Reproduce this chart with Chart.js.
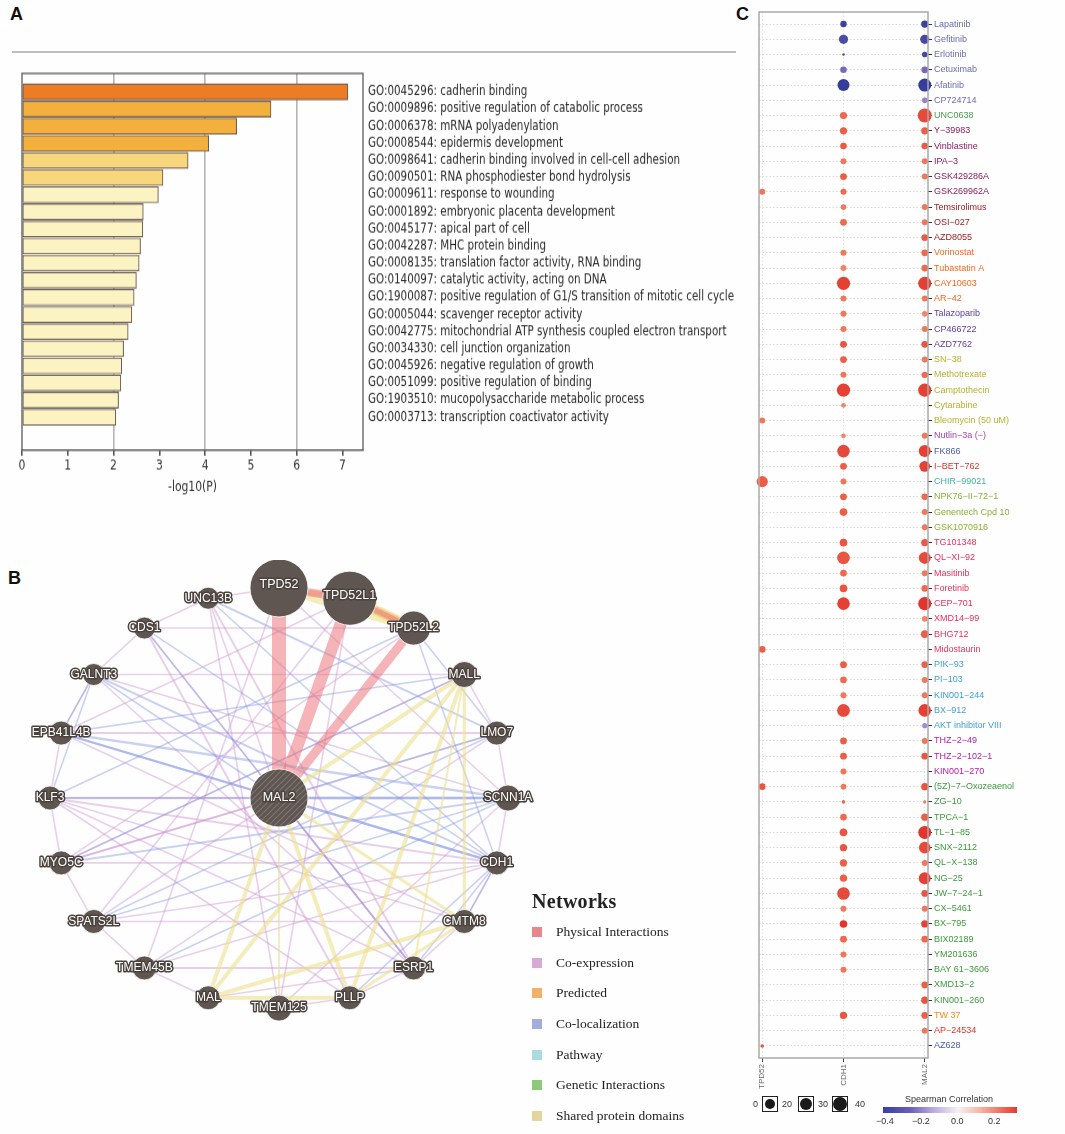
<!DOCTYPE html>
<html lang="en">
<head>
    <meta charset="UTF-8">
    <title>MAL2: GO enrichment, gene network and drug sensitivity</title>
    <script src="https://cdn.jsdelivr.net/npm/chart.js@4.4.0/dist/chart.umd.min.js"></script>
    <style>
        body {
            margin: 0;
            background: #fff;
            font-family: "Liberation Sans", Arial, sans-serif;
        }
        .page {
            position: relative;
            width: 1065px;
            height: 1134px;
            overflow: hidden;
            background: #fefefe;
        }
        .tag {
            position: absolute;
            font-weight: bold;
            font-size: 18px;
            color: #111;
        }
        canvas { position: absolute; }
        .rule {
            position: absolute;
            left: 12px;
            top: 51px;
            width: 724px;
            height: 2px;
            background: #bdbdbd;
        }
        .netLegend {
            position: absolute;
            left: 532px;
            top: 890px;
            font-family: "Liberation Serif", "DejaVu Serif", serif;
            color: #222;
        }
        .netLegend h3 {
            margin: 0 0 4px 0;
            font-size: 20px;
            font-weight: bold;
            letter-spacing: 0.3px;
        }
        .netLegend .item {
            height: 30.7px;
            line-height: 30.7px;
            font-size: 13.5px;
            white-space: nowrap;
        }
        .netLegend .sw {
            display: inline-block;
            width: 10px;
            height: 10px;
            margin-right: 14px;
            vertical-align: -1px;
        }
        .sizeLegend, .corrLegend {
            position: absolute;
            font-size: 9px;
            color: #333;
            white-space: nowrap;
        }
        .sizeLegend span, .corrLegend span { position: absolute; white-space: nowrap; }
        .sizeLegend .bx {
            position: absolute;
            top: 0;
            width: 14px;
            height: 14px;
            border: 1.5px solid #222;
            background: #fff;
        }
        .sizeLegend .bx i {
            position: absolute;
            left: 50%;
            top: 50%;
            border-radius: 50%;
            background: #1a1a1a;
            transform: translate(-50%, -50%);
        }
        .corrLegend .bar {
            position: absolute;
            left: 0;
            top: 13px;
            width: 134px;
            height: 6px;
            background: linear-gradient(to right, #353fa8 0%, #6a5cb8 20%, #b7a9dc 37%, #f6f0f4 56%, #f6b7a4 72%, #e63a2c 100%);
        }
    </style>
</head>
<body>
<div class="page">
    <div class="tag" style="left:10px; top:4px;">A</div>
    <div class="tag" style="left:8px; top:568px;">B</div>
    <div class="tag" style="left:736px; top:4px;">C</div>
    <div class="rule"></div>

    <!-- panel A is drawn 390px high and shown 440px high, to get the tall narrow lettering of the original -->
    <canvas id="goChart" width="745" height="390" style="left:0; top:60px; width:745px; height:440px;"></canvas>
    <canvas id="netChart" width="560" height="480" style="left:0; top:560px; width:560px; height:480px;"></canvas>
    <canvas id="drugChart" width="325" height="1100" style="left:740px; top:0; width:325px; height:1100px;"></canvas>

    <div class="netLegend" id="netLegend"><h3>Networks</h3></div>

    <div class="sizeLegend" style="left:750px; top:1096px;">
        <span style="left:3px; top:3px;">0</span>
        <div class="bx" style="left:12px;"><i style="width:10px; height:10px;"></i></div>
        <span style="left:32px; top:3px;">20</span>
        <div class="bx" style="left:48px;"><i style="width:12px; height:12px;"></i></div>
        <span style="left:68px; top:3px;">30</span>
        <div class="bx" style="left:82px;"><i style="width:14px; height:14px;"></i></div>
        <span style="left:105px; top:3px;">40</span>
    </div>
    <div class="corrLegend" style="left:883px; top:1094px;">
        <span style="left:22px; top:0;">Spearman Correlation</span>
        <div class="bar"></div>
        <span style="left:-7px; top:22px;">−0.4</span>
        <span style="left:29px; top:22px;">−0.2</span>
        <span style="left:68px; top:22px;">0.0</span>
        <span style="left:105px; top:22px;">0.2</span>
    </div>
</div>

<script>
    // ---------- A: GO enrichment ----------
    const goTerms = [
        'GO:0045296: cadherin binding',
        'GO:0009896: positive regulation of catabolic process',
        'GO:0006378: mRNA polyadenylation',
        'GO:0008544: epidermis development',
        'GO:0098641: cadherin binding involved in cell-cell adhesion',
        'GO:0090501: RNA phosphodiester bond hydrolysis',
        'GO:0009611: response to wounding',
        'GO:0001892: embryonic placenta development',
        'GO:0045177: apical part of cell',
        'GO:0042287: MHC protein binding',
        'GO:0008135: translation factor activity, RNA binding',
        'GO:0140097: catalytic activity, acting on DNA',
        'GO:1900087: positive regulation of G1/S transition of mitotic cell cycle',
        'GO:0005044: scavenger receptor activity',
        'GO:0042775: mitochondrial ATP synthesis coupled electron transport',
        'GO:0034330: cell junction organization',
        'GO:0045926: negative regulation of growth',
        'GO:0051099: positive regulation of binding',
        'GO:1903510: mucopolysaccharide metabolic process',
        'GO:0003713: transcription coactivator activity'
    ];
    const goLogP = [7.12, 5.44, 4.69, 4.08, 3.63, 3.08, 2.98, 2.65, 2.64, 2.59,
                    2.56, 2.50, 2.45, 2.40, 2.32, 2.22, 2.18, 2.16, 2.11, 2.05];

    function goBarColor(v) {
        if (v > 7) return '#ec7d24';
        if (v > 4) return '#f4b03c';
        if (v > 3) return '#f8d67c';
        return '#fcf3c2';
    }

    const narrow = "'DejaVu Sans Condensed', 'Liberation Sans', sans-serif";
    const stretchA = 440 / 390;   // vertical stretch of panel A

    const framePlugin = {
        id: 'frame',
        afterDatasetsDraw(chart, args, opts) {
            const a = chart.chartArea, ctx = chart.ctx;
            ctx.save();
            ctx.strokeStyle = opts.color;
            ctx.lineWidth = opts.width;
            ctx.strokeRect(a.left, a.top, a.right - a.left, a.bottom - a.top);
            ctx.restore();
        }
    };

    new Chart(document.getElementById('goChart'), {
        type: 'bar',
        data: {
            datasets: [{
                data: goLogP.map((v, i) => ({ x: v, y: i })),
                backgroundColor: goLogP.map(goBarColor),
                borderColor: '#6a5d55',
                borderWidth: 1.1,
                borderSkipped: false,
                barThickness: 16 / stretchA
            }]
        },
        options: {
            indexAxis: 'y',
            responsive: false,
            animation: false,
            layout: { autoPadding: false, padding: { left: 22, top: 13 / stretchA, right: 0, bottom: 0 } },
            plugins: {
                legend: { display: false },
                tooltip: { enabled: false },
                frame: { color: '#5a5a5a', width: 1.3 }
            },
            scales: {
                x: {
                    type: 'linear',
                    min: 0,
                    max: 7.45,
                    ticks: { stepSize: 1, includeBounds: false, color: '#333', padding: 2,
                             font: { family: narrow, size: 12 } },
                    grid: {
                        color: c => (c.tick && c.tick.value > 0 && c.tick.value % 2 === 0) ? '#b4b4b4' : 'rgba(0,0,0,0)',
                        lineWidth: 1.6,
                        tickLength: 5,
                        tickColor: '#555'
                    },
                    border: { display: true, color: '#5a5a5a', width: 1.3 },
                    title: { display: true, text: '-log10(P)', color: '#333', padding: { top: 1 },
                             font: { family: narrow, size: 12 } },
                    afterFit: s => { s.height = 390 - (450 - 60) / stretchA; }
                },
                y: {
                    type: 'linear',
                    position: 'right',
                    reverse: true,
                    min: -0.556,
                    max: 20.39,
                    ticks: {
                        stepSize: 1, includeBounds: false, autoSkip: false, maxTicksLimit: 100,
                        padding: 5, color: '#2a2a2a',
                        font: { family: narrow, size: 11.5 },
                        callback: v => goTerms[v] || ''
                    },
                    grid: { display: false, drawTicks: false },
                    border: { display: false },
                    afterFit: s => { s.width = 745 - 363; }
                }
            }
        },
        plugins: [framePlugin]
    });

    // ---------- B: gene network ----------
    const ringGenes = ['TPD52', 'TPD52L1', 'TPD52L2', 'MALL', 'LMO7', 'SCNN1A', 'CDH1', 'CMTM8',
                       'ESRP1', 'PLLP', 'TMEM125', 'MAL', 'TMEM45B', 'SPATS2L', 'MYO5C', 'KLF3',
                       'EPB41L4B', 'GALNT3', 'CDS1', 'UNC13B'];
    const ringNodeScore = [29, 27, 17, 13, 12, 13, 12, 12, 12, 12, 13, 12, 12, 12, 12, 12, 12, 11, 11, 11];
    const queryGene = 'MAL2';
    const queryScore = 29;

    const networkTypes = ['Physical Interactions', 'Co-expression', 'Predicted', 'Co-localization',
                          'Pathway', 'Genetic Interactions', 'Shared protein domains'];
    const networkColors = ['#e8868b', '#d6a9d9', '#f3b06a', '#a3addd', '#a9dbe0', '#8cc97c', '#e5d59c'];
    const edgeStroke = {
        'Physical Interactions': 'rgba(236,118,124,0.55)',
        'Co-expression': 'rgba(203,146,208,0.42)',
        'Predicted': 'rgba(240,168,86,0.5)',
        'Co-localization': 'rgba(132,150,226,0.42)',
        'Shared protein domains': 'rgba(236,224,140,0.6)'
    };

    // [gene A, gene B, network, weight]
    const edges = [
        ['MAL2', 'TPD52', 'Physical Interactions', 14],
        ['MAL2', 'TPD52L1', 'Physical Interactions', 12],
        ['MAL2', 'TPD52L2', 'Physical Interactions', 9],
        ['TPD52', 'TPD52L1', 'Physical Interactions', 8],
        ['TPD52L1', 'TPD52L2', 'Physical Interactions', 5],
        ['TPD52', 'TPD52L1', 'Predicted', 5],
        ['TPD52L1', 'TPD52L2', 'Predicted', 8],
        ['TPD52', 'TPD52L2', 'Shared protein domains', 8],
        ['TPD52L1', 'TPD52L2', 'Shared protein domains', 11],
        ['MAL2', 'MAL', 'Shared protein domains', 4],
        ['MAL2', 'PLLP', 'Shared protein domains', 4],
        ['MAL2', 'MALL', 'Shared protein domains', 4],
        ['MAL', 'PLLP', 'Shared protein domains', 4],
        ['MAL', 'MALL', 'Shared protein domains', 4],
        ['PLLP', 'MALL', 'Shared protein domains', 4],
        ['MAL', 'CMTM8', 'Shared protein domains', 4],
        ['PLLP', 'CMTM8', 'Shared protein domains', 3],
        ['MALL', 'CMTM8', 'Shared protein domains', 3],
        ['MAL2', 'CMTM8', 'Shared protein domains', 3],
        ['MALL', 'ESRP1', 'Shared protein domains', 2],
        ['MAL2', 'TMEM125', 'Shared protein domains', 2],
        ['UNC13B', 'CDS1', 'Co-expression', 1.6],
        ['CDS1', 'GALNT3', 'Co-expression', 1.6],
        ['GALNT3', 'EPB41L4B', 'Co-expression', 1.6],
        ['EPB41L4B', 'KLF3', 'Co-expression', 1.6],
        ['KLF3', 'MYO5C', 'Co-expression', 1.6],
        ['MYO5C', 'SPATS2L', 'Co-expression', 1.6],
        ['SPATS2L', 'TMEM45B', 'Co-expression', 1.6],
        ['TMEM45B', 'MAL', 'Co-expression', 1.6],
        ['TMEM125', 'PLLP', 'Co-expression', 1.6],
        ['PLLP', 'ESRP1', 'Co-expression', 1.6],
        ['ESRP1', 'CMTM8', 'Co-expression', 1.6],
        ['CMTM8', 'CDH1', 'Co-expression', 1.6],
        ['CDH1', 'SCNN1A', 'Co-expression', 1.6],
        ['SCNN1A', 'LMO7', 'Co-expression', 1.6],
        ['LMO7', 'MALL', 'Co-expression', 1.6],
        ['UNC13B', 'TPD52', 'Co-expression', 1.6],
        ['UNC13B', 'ESRP1', 'Co-expression', 2],
        ['UNC13B', 'TMEM125', 'Co-expression', 1.6],
        ['CDS1', 'TPD52L2', 'Co-expression', 1.6],
        ['CDS1', 'PLLP', 'Co-expression', 2],
        ['GALNT3', 'MALL', 'Co-expression', 1.6],
        ['GALNT3', 'SCNN1A', 'Co-expression', 1.6],
        ['EPB41L4B', 'LMO7', 'Co-expression', 2],
        ['EPB41L4B', 'CMTM8', 'Co-expression', 1.6],
        ['KLF3', 'CDH1', 'Co-expression', 2],
        ['KLF3', 'ESRP1', 'Co-expression', 1.6],
        ['MYO5C', 'CDH1', 'Co-expression', 1.6],
        ['MYO5C', 'LMO7', 'Co-expression', 1.6],
        ['SPATS2L', 'TPD52L1', 'Co-expression', 1.6],
        ['SPATS2L', 'CDH1', 'Co-expression', 1.6],
        ['TMEM45B', 'CDH1', 'Co-expression', 1.6],
        ['TMEM45B', 'TPD52', 'Co-expression', 1.6],
        ['TMEM45B', 'ESRP1', 'Co-expression', 2],
        ['MAL', 'ESRP1', 'Co-expression', 1.6],
        ['TMEM125', 'SCNN1A', 'Co-expression', 1.6],
        ['PLLP', 'KLF3', 'Co-expression', 1.6],
        ['ESRP1', 'GALNT3', 'Co-expression', 1.6],
        ['ESRP1', 'CDS1', 'Co-expression', 1.6],
        ['CMTM8', 'KLF3', 'Co-expression', 1.6],
        ['CMTM8', 'SPATS2L', 'Co-expression', 1.6],
        ['MAL2', 'KLF3', 'Co-expression', 2.5],
        ['MAL2', 'MYO5C', 'Co-expression', 2],
        ['MAL2', 'ESRP1', 'Co-expression', 2],
        ['MAL2', 'SPATS2L', 'Co-expression', 1.6],
        ['MAL2', 'UNC13B', 'Co-expression', 1.6],
        ['TPD52L1', 'EPB41L4B', 'Co-expression', 1.6],
        ['TPD52L2', 'MYO5C', 'Co-expression', 1.6],
        ['TPD52', 'SCNN1A', 'Co-expression', 1.6],
        ['TPD52L1', 'TMEM125', 'Co-expression', 1.6],
        ['LMO7', 'TMEM45B', 'Co-expression', 1.6],
        ['MALL', 'MYO5C', 'Co-expression', 1.6],
        ['GALNT3', 'CDH1', 'Co-localization', 2],
        ['EPB41L4B', 'CDH1', 'Co-localization', 2.5],
        ['EPB41L4B', 'SCNN1A', 'Co-localization', 2.5],
        ['KLF3', 'SCNN1A', 'Co-localization', 2],
        ['MYO5C', 'SCNN1A', 'Co-localization', 2],
        ['UNC13B', 'LMO7', 'Co-localization', 2],
        ['UNC13B', 'CDH1', 'Co-localization', 1.6],
        ['CDS1', 'ESRP1', 'Co-localization', 1.6],
        ['CDS1', 'CDH1', 'Co-localization', 1.6],
        ['MAL2', 'SCNN1A', 'Co-localization', 3],
        ['MAL2', 'CDH1', 'Co-localization', 2.5],
        ['MAL2', 'LMO7', 'Co-localization', 2],
        ['MAL2', 'EPB41L4B', 'Co-localization', 2],
        ['MAL2', 'GALNT3', 'Co-localization', 1.6],
        ['GALNT3', 'KLF3', 'Co-localization', 1.6],
        ['GALNT3', 'EPB41L4B', 'Co-localization', 1.6],
        ['SPATS2L', 'LMO7', 'Co-localization', 1.6],
        ['TMEM45B', 'SCNN1A', 'Co-localization', 1.6],
        ['MYO5C', 'MALL', 'Co-localization', 1.6],
        ['ESRP1', 'CDH1', 'Co-localization', 1.6],
        ['CMTM8', 'CDH1', 'Co-localization', 1.6],
        ['TPD52L2', 'LMO7', 'Co-localization', 1.6],
        ['TPD52L2', 'CDH1', 'Co-localization', 1.6],
        ['KLF3', 'TPD52L2', 'Co-localization', 1.6],
        ['PLLP', 'CDH1', 'Co-localization', 1.6],
        ['MALL', 'EPB41L4B', 'Co-localization', 1.6],
        ['SPATS2L', 'SCNN1A', 'Co-localization', 1.6]
    ];

    // ring layout: genes evenly spaced round the circle, query gene in the centre
    const nodePos = {};
    ringGenes.forEach((g, k) => {
        const t = (-90 + 360 * k / ringGenes.length) * Math.PI / 180;
        nodePos[g] = { x: Math.cos(t), y: Math.sin(t) };
    });
    nodePos[queryGene] = { x: 0, y: 0 };

    const edgeOrder = { 'Co-expression': 5, 'Co-localization': 4, 'Shared protein domains': 3, 'Predicted': 2, 'Physical Interactions': 1 };
    const edgeSets = edges.map(([a, b, type, w]) => ({
        type: 'line',
        data: [nodePos[a], nodePos[b]],
        borderColor: edgeStroke[type],
        borderWidth: w,
        pointRadius: 0,
        showLine: true,
        order: edgeOrder[type] + 1
    }));

    const nodeFill = '#5f5651';
    const hatch = document.createElement('canvas');
    hatch.width = 6; hatch.height = 6;
    const hctx = hatch.getContext('2d');
    hctx.fillStyle = nodeFill;
    hctx.fillRect(0, 0, 6, 6);
    hctx.strokeStyle = '#7d7470';
    hctx.lineWidth = 1.2;
    hctx.beginPath();
    hctx.moveTo(0, 6); hctx.lineTo(6, 0);
    hctx.moveTo(-1, 1); hctx.lineTo(1, -1);
    hctx.moveTo(5, 7); hctx.lineTo(7, 5);
    hctx.stroke();
    const hatchPattern = hctx.createPattern(hatch, 'repeat');

    const allGenes = ringGenes.concat([queryGene]);
    const allScores = ringNodeScore.concat([queryScore]);

    const nodeLabelPlugin = {
        id: 'nodeLabels',
        afterDatasetsDraw(chart) {
            const ctx = chart.ctx, sx = chart.scales.x, sy = chart.scales.y;
            ctx.save();
            ctx.textAlign = 'center';
            ctx.textBaseline = 'middle';
            ctx.lineJoin = 'round';
            allGenes.forEach((g, i) => {
                const px = sx.getPixelForValue(nodePos[g].x);
                let py = sy.getPixelForValue(nodePos[g].y);
                if (allScores[i] > 20 && g !== queryGene) py -= 3;
                ctx.font = (allScores[i] > 20 ? '12.5px' : '12px') + ' "Liberation Sans", Arial, sans-serif';
                ctx.strokeStyle = '#4b423d';
                ctx.lineWidth = 3;
                ctx.strokeText(g, px, py);
                ctx.fillStyle = '#ffffff';
                ctx.fillText(g, px, py);
            });
            ctx.restore();
        }
    };

    new Chart(document.getElementById('netChart'), {
        type: 'scatter',
        data: {
            datasets: edgeSets.concat([{
                type: 'bubble',
                data: allGenes.map((g, i) => ({ x: nodePos[g].x, y: nodePos[g].y, r: allScores[i] })),
                backgroundColor: allGenes.map(g => g === queryGene ? hatchPattern : nodeFill),
                borderColor: '#ffffff',
                borderWidth: 0.8,
                order: 0
            }])
        },
        options: {
            responsive: false,
            animation: false,
            layout: { autoPadding: false, padding: 0 },
            plugins: { legend: { display: false }, tooltip: { enabled: false } },
            scales: {
                x: { type: 'linear', display: false, min: -279 / 229, max: (560 - 279) / 229 },
                y: { type: 'linear', display: false, reverse: true, min: -1.133, max: 1.152 }
            }
        },
        plugins: [nodeLabelPlugin]
    });

    const legendEl = document.getElementById('netLegend');
    networkTypes.forEach((t, i) => {
        const d = document.createElement('div');
        d.className = 'item';
        d.innerHTML = '<span class="sw" style="background:' + networkColors[i] + '"></span>' + t;
        legendEl.appendChild(d);
    });

    // ---------- C: drug sensitivity (GDSC) ----------
    const genesC = ['TPD52', 'CDH1', 'MAL2'];
    const drugs = [
        'Lapatinib', 'Gefitinib', 'Erlotinib', 'Cetuximab', 'Afatinib', 'CP724714', 'UNC0638',
        'Y−39983', 'Vinblastine', 'IPA−3', 'GSK429286A', 'GSK269962A', 'Temsirolimus', 'OSI−027',
        'AZD8055', 'Vorinostat', 'Tubastatin A', 'CAY10603', 'AR−42', 'Talazoparib', 'CP466722',
        'AZD7762', 'SN−38', 'Methotrexate', 'Camptothecin', 'Cytarabine', 'Bleomycin (50 uM)',
        'Nutlin−3a (−)', 'FK866', 'I−BET−762', 'CHIR−99021', 'NPK76−II−72−1', 'Genentech Cpd 10',
        'GSK1070916', 'TG101348', 'QL−XI−92', 'Masitinib', 'Foretinib', 'CEP−701', 'XMD14−99',
        'BHG712', 'Midostaurin', 'PIK−93', 'PI−103', 'KIN001−244', 'BX−912', 'AKT inhibitor VIII',
        'THZ−2−49', 'THZ−2−102−1', 'KIN001−270', '(5Z)−7−Oxozeaenol', 'ZG−10', 'TPCA−1', 'TL−1−85',
        'SNX−2112', 'QL−X−138', 'NG−25', 'JW−7−24−1', 'CX−5461', 'BX−795', 'BIX02189', 'YM201636',
        'BAY 61−3606', 'XMD13−2', 'KIN001−260', 'TW 37', 'AP−24534', 'AZ628'
    ];
    const drugPathway = [
        'EGFR', 'EGFR', 'EGFR', 'EGFR', 'EGFR', 'EGFR', 'Histone methylation',
        'Cytoskeleton', 'Cytoskeleton', 'Cytoskeleton', 'Cytoskeleton', 'Cytoskeleton', 'PI3K/MTOR', 'PI3K/MTOR',
        'PI3K/MTOR', 'Histone acetylation', 'Histone acetylation', 'Histone acetylation', 'Histone acetylation', 'Genome integrity', 'Genome integrity',
        'Genome integrity', 'DNA replication', 'DNA replication', 'DNA replication', 'DNA replication', 'DNA replication',
        'p53', 'Metabolism', 'Chromatin other', 'WNT', 'Mitosis', 'Mitosis',
        'Mitosis', 'RTK', 'RTK', 'RTK', 'RTK', 'RTK', 'RTK',
        'RTK', 'RTK', 'PI3K', 'PI3K', 'PI3K', 'PI3K', 'PI3K',
        'Cell cycle', 'Cell cycle', 'Cell cycle', 'Other kinases', 'Other kinases', 'Other kinases', 'Other kinases',
        'Other kinases', 'Other kinases', 'Other kinases', 'Other kinases', 'Other kinases', 'Other kinases', 'Other kinases', 'Other kinases',
        'Other kinases', 'Other kinases', 'Other kinases', 'Apoptosis', 'ABL', 'ERK MAPK'
    ];
    const pathwayColor = {
        'EGFR': '#6b6bb8', 'Histone methylation': '#4a9a4e', 'Cytoskeleton': '#8a1c5c',
        'PI3K/MTOR': '#9a1e22', 'Histone acetylation': '#f2691c', 'Genome integrity': '#5b3da3',
        'DNA replication': '#b9b32c', 'p53': '#a346a8', 'Metabolism': '#4d5aa3',
        'Chromatin other': '#e0302a', 'WNT': '#3fb3a0', 'Mitosis': '#8cb234', 'RTK': '#e8305c',
        'PI3K': '#3fa0da', 'Cell cycle': '#b3209c', 'Other kinases': '#3c9a3c',
        'Apoptosis': '#f38a1e', 'ABL': '#e8302a', 'ERK MAPK': '#4a5ab4'
    };

    // bubble size (significance) and Spearman correlation per gene; null = not significant
    const tpd52Size = [
        null, null, null, null, null, null, null, null, null, null,
        null, 3.0, null, null, null, null, null, null, null, null,
        null, null, null, null, null, null, 3.0, null, null, null,
        5.6, null, null, null, null, null, null, null, null, null,
        null, 3.3, null, null, null, null, null, null, null, null,
        3.3, null, null, null, null, null, null, null, null, null,
        null, null, null, null, null, null, null, 1.8
    ];
    const tpd52Corr = [
        null, null, null, null, null, null, null, null, null, null,
        null, 0.20, null, null, null, null, null, null, null, null,
        null, null, null, null, null, null, 0.20, null, null, null,
        0.24, null, null, null, null, null, null, null, null, null,
        null, 0.24, null, null, null, null, null, null, null, null,
        0.26, null, null, null, null, null, null, null, null, null,
        null, null, null, null, null, null, null, 0.26
    ];
    const cdh1Size = [
        3.2, 4.6, 1.3, 3.3, 6.0, null, 3.6, 3.6, 3.3, 3.0,
        3.4, 3.0, 2.8, 3.4, null, 3.0, 3.0, 6.6, 3.0, 3.0,
        3.0, 3.4, 3.4, 3.0, 6.6, 2.4, null, 2.4, 6.3, 3.4,
        3.0, 3.4, 3.8, null, 3.8, 6.3, 3.3, 3.8, 6.3, null,
        null, null, 3.4, 3.3, 3.0, 6.4, null, 3.4, 3.4, 3.0,
        2.8, 1.8, 3.3, 3.8, 3.6, 3.6, 3.6, 6.3, 3.0, 3.8,
        3.4, 3.0, 3.0, null, null, 3.6, null, null
    ];
    const cdh1Corr = [
        -0.40, -0.34, -0.34, -0.26, -0.42, null, 0.22, 0.24, 0.25, 0.20,
        0.24, 0.22, 0.20, 0.22, null, 0.20, 0.18, 0.30, 0.20, 0.20,
        0.20, 0.26, 0.24, 0.20, 0.30, 0.18, null, 0.18, 0.28, 0.24,
        0.20, 0.24, 0.24, null, 0.26, 0.26, 0.22, 0.26, 0.30, null,
        null, null, 0.24, 0.22, 0.20, 0.28, null, 0.24, 0.24, 0.20,
        0.20, 0.22, 0.22, 0.26, 0.26, 0.24, 0.24, 0.28, 0.20, 0.32,
        0.22, 0.20, 0.20, null, null, 0.26, null, null
    ];
    const mal2Size = [
        3.6, 4.6, 2.8, 3.4, 6.5, 2.8, 7.0, 3.6, 3.3, 3.0,
        3.0, null, 3.0, 3.0, 3.4, 3.4, 3.4, 6.6, 3.0, 2.8,
        3.0, 3.4, 3.0, 3.2, 6.6, null, null, 3.0, 6.0, 5.4,
        null, 3.3, 3.0, 3.0, 3.6, 6.0, 3.0, 3.3, 6.6, 2.8,
        3.8, null, 3.3, 3.0, 3.0, 6.3, 2.6, 3.0, 3.4, null,
        3.6, 1.6, 3.6, 6.5, 5.8, 3.0, 6.0, 3.4, 3.0, 3.6,
        3.4, null, null, 3.4, 3.6, 3.4, 3.0, null
    ];
    const mal2Corr = [
        -0.40, -0.36, -0.36, -0.26, -0.42, -0.22, 0.28, 0.24, 0.25, 0.20,
        0.20, null, 0.20, 0.20, 0.25, 0.22, 0.22, 0.30, 0.20, 0.18,
        0.20, 0.26, 0.20, 0.22, 0.30, null, null, 0.20, 0.30, 0.30,
        null, 0.22, 0.20, 0.20, 0.25, 0.28, 0.20, 0.22, 0.32, 0.18,
        0.24, null, 0.24, 0.20, 0.20, 0.30, -0.20, 0.20, 0.26, null,
        0.26, 0.20, 0.24, 0.32, 0.28, 0.20, 0.30, 0.26, 0.20, 0.30,
        0.22, null, null, 0.24, 0.26, 0.24, 0.20, null
    ];

    const corrStops = [
        [-0.45, [43, 56, 150]], [-0.30, [90, 82, 176]], [-0.20, [160, 143, 208]],
        [0.00, [244, 238, 242]], [0.15, [243, 154, 128]], [0.22, [238, 106, 78]], [0.33, [224, 48, 42]]
    ];
    function corrColor(v) {
        if (v <= corrStops[0][0]) return 'rgb(' + corrStops[0][1].join(',') + ')';
        for (let i = 1; i < corrStops.length; i++) {
            const [v1, c1] = corrStops[i];
            const [v0, c0] = corrStops[i - 1];
            if (v <= v1) {
                const t = (v - v0) / (v1 - v0);
                return 'rgb(' + c0.map((c, j) => Math.round(c + (c1[j] - c) * t)).join(',') + ')';
            }
        }
        return 'rgb(' + corrStops[corrStops.length - 1][1].join(',') + ')';
    }

    const bubblePoints = [];
    [[tpd52Size, tpd52Corr], [cdh1Size, cdh1Corr], [mal2Size, mal2Corr]].forEach(([sizes, corrs], col) => {
        sizes.forEach((s, row) => {
            if (s !== null) bubblePoints.push({ x: col, y: row, r: s, c: corrs[row] });
        });
    });

    new Chart(document.getElementById('drugChart'), {
        type: 'bubble',
        data: {
            datasets: [{
                data: bubblePoints,
                backgroundColor: bubblePoints.map(p => corrColor(p.c)),
                borderWidth: 0,
                clip: false
            }]
        },
        options: {
            responsive: false,
            animation: false,
            layout: { autoPadding: false, padding: { left: 19, top: 12, right: 0, bottom: 0 } },
            plugins: {
                legend: { display: false },
                tooltip: { enabled: false },
                frame: { color: '#a9a9a9', width: 1.5 }
            },
            scales: {
                x: {
                    type: 'linear',
                    min: -0.04,
                    max: 2.04,
                    ticks: {
                        stepSize: 1, includeBounds: false, autoSkip: false,
                        minRotation: 90, maxRotation: 90, padding: 2,
                        color: '#666', font: { size: 8 },
                        callback: v => genesC[v] || ''
                    },
                    grid: { color: '#e2e2e2', lineWidth: 1, tickLength: 4, tickColor: '#444' },
                    border: { display: false, dash: [1.5, 2] },
                    afterFit: s => { s.height = 42; }
                },
                y: {
                    type: 'linear',
                    position: 'right',
                    reverse: true,
                    min: -0.79,
                    max: 67.79,
                    ticks: {
                        stepSize: 1, includeBounds: false, autoSkip: false, maxTicksLimit: 100,
                        padding: 2,
                        font: { size: 9 },
                        color: c => pathwayColor[drugPathway[c.tick.value]] || '#333',
                        callback: v => drugs[v] || ''
                    },
                    grid: { color: '#d9d9d9', lineWidth: 1, tickLength: 4, tickColor: '#333' },
                    border: { display: false, dash: [1.5, 2] },
                    afterFit: s => { s.width = 137; }
                }
            }
        },
        plugins: [framePlugin]
    });
</script>
</body>
</html>
